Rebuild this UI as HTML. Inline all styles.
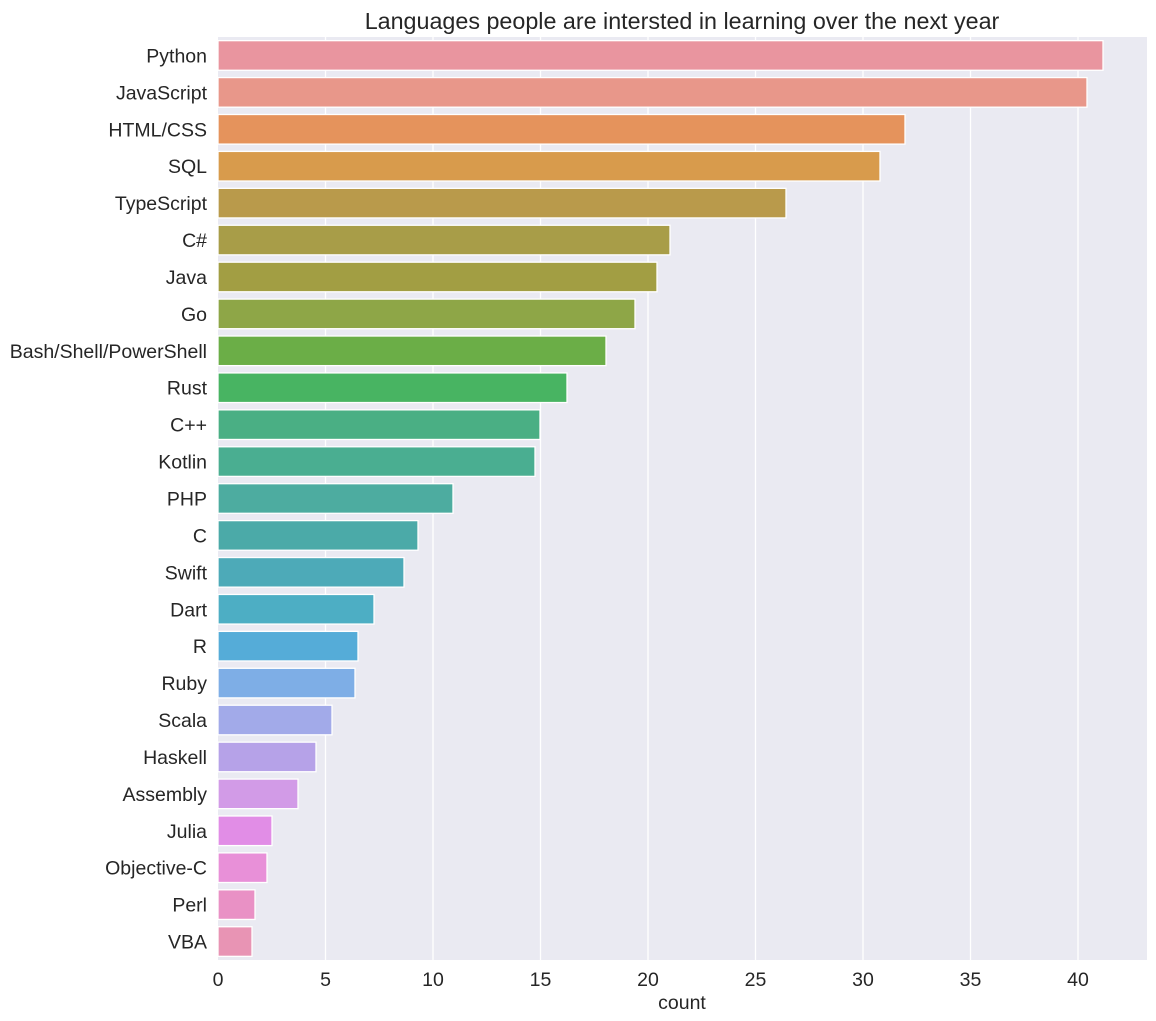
<!DOCTYPE html>
<html><head><meta charset="utf-8"><style>body{margin:0;background:#fff}svg{display:block}text{font-family:"Liberation Sans",Arial,sans-serif;fill:#262626}</style></head>
<body>
<svg width="1156" height="1021" xmlns="http://www.w3.org/2000/svg">
<rect x="218" y="37" width="929" height="923" fill="#eaeaf2"/>
<g stroke="#fff" stroke-width="1.3">
<line x1="325.5" y1="37" x2="325.5" y2="960"/><line x1="433" y1="37" x2="433" y2="960"/><line x1="540.5" y1="37" x2="540.5" y2="960"/><line x1="648" y1="37" x2="648" y2="960"/><line x1="755.5" y1="37" x2="755.5" y2="960"/><line x1="863" y1="37" x2="863" y2="960"/><line x1="970.5" y1="37" x2="970.5" y2="960"/><line x1="1078" y1="37" x2="1078" y2="960"/>
</g>
<g stroke="#fff" stroke-width="1.3" id="bars"></g>
<g font-size="19.5" text-anchor="end" id="labels"></g>
<g font-size="19.5" text-anchor="middle">
<text x="218" y="986">0</text><text x="325.5" y="986">5</text><text x="433" y="986">10</text><text x="540.5" y="986">15</text><text x="648" y="986">20</text><text x="755.5" y="986">25</text><text x="863" y="986">30</text><text x="970.5" y="986">35</text><text x="1078" y="986">40</text>
<text x="682" y="1009">count</text>
</g>
<text x="682" y="29" font-size="23.3" text-anchor="middle">Languages people are intersted in learning over the next year</text>
<script>
var d=[["Python",1103,"#e9959f"],["JavaScript",1087,"#e8978a"],["HTML/CSS",905,"#e5935c"],["SQL",880,"#d89b4c"],["TypeScript",786,"#b99a4b"],["C#",670,"#a89d48"],["Java",657,"#a29e43"],["Go",635,"#8ea647"],["Bash/Shell/PowerShell",606,"#6bae47"],["Rust",567,"#48b462"],["C++",540,"#4aaf84"],["Kotlin",535,"#4aae91"],["PHP",453,"#4daca0"],["C",418,"#4baaa8"],["Swift",404,"#4daab8"],["Dart",374,"#4daec4"],["R",358,"#55acd8"],["Ruby",355,"#7eaee6"],["Scala",332,"#a2aae9"],["Haskell",316,"#b6a2e8"],["Assembly",298,"#d29be7"],["Julia",272,"#e18de6"],["Objective-C",267,"#e890d8"],["Perl",255,"#e991c5"],["VBA",252,"#e894b4"]];
var ns="http://www.w3.org/2000/svg",b=document.getElementById("bars"),l=document.getElementById("labels");
d.forEach(function(r,i){var c=37+36.92*(i+0.5);var e=document.createElementNS(ns,"rect");e.setAttribute("x",218);e.setAttribute("y",c-14.8);e.setAttribute("width",r[1]-218);e.setAttribute("height",29.6);e.setAttribute("fill",r[2]);b.appendChild(e);
var t=document.createElementNS(ns,"text");t.setAttribute("x",207);t.setAttribute("y",c+7);t.textContent=r[0];l.appendChild(t);});
</script>
</svg>
</body></html>
